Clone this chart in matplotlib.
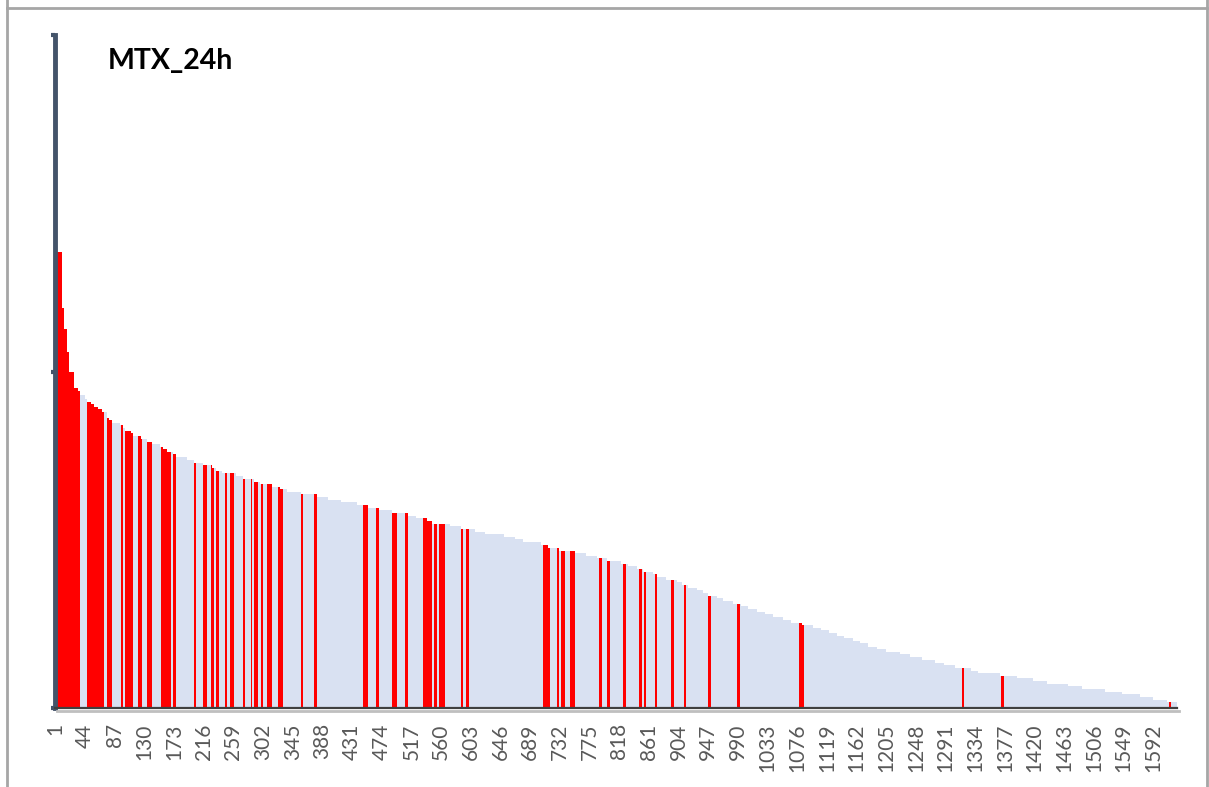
import numpy as np
import matplotlib.pyplot as plt
from matplotlib.lines import Line2D

# Sorted scores, stored as steps: first rank of each step and its value
step_start = [1, 11, 14, 18, 22, 29, 34, 37, 45, 48, 53, 57, 64, 69, 72, 76, 79, 83, 95, 99,
              103, 111, 114, 125, 134, 141, 153, 157, 164, 172, 176, 192, 203, 215, 229, 234, 243, 263, 273, 289,
              298, 315, 327, 337, 357, 380, 396, 416, 438, 454, 470, 489, 512, 524, 540, 547, 573, 589, 609, 624,
              651, 667, 679, 705, 715, 732, 754, 770, 786, 801, 821, 832, 844, 853, 867, 874, 886, 902, 909, 918,
              932, 940, 947, 960, 969, 983, 995, 1005, 1018, 1030, 1041, 1056, 1067, 1083, 1099, 1111, 1122, 1134, 1145, 1157,
              1167, 1179, 1192, 1206, 1225, 1240, 1257, 1276, 1290, 1305, 1329, 1338, 1370, 1395, 1418, 1438, 1469, 1489, 1522, 1548,
              1573, 1592, 1612]
step_value = [1.354, 1.188, 1.125, 1.058, 0.999, 0.950, 0.942, 0.930, 0.917, 0.910, 0.903, 0.895, 0.889, 0.881, 0.879, 0.863, 0.856, 0.848, 0.841, 0.831,
              0.824, 0.816, 0.808, 0.799, 0.791, 0.785, 0.777, 0.769, 0.762, 0.754, 0.745, 0.737, 0.729, 0.721, 0.713, 0.705, 0.697, 0.689, 0.681, 0.673,
              0.666, 0.658, 0.650, 0.643, 0.635, 0.627, 0.618, 0.611, 0.603, 0.595, 0.587, 0.579, 0.571, 0.564, 0.556, 0.548, 0.540, 0.532, 0.524, 0.516,
              0.508, 0.501, 0.492, 0.484, 0.476, 0.468, 0.460, 0.452, 0.445, 0.437, 0.429, 0.421, 0.413, 0.405, 0.397, 0.389, 0.381, 0.374, 0.366, 0.358,
              0.350, 0.342, 0.334, 0.326, 0.318, 0.310, 0.302, 0.294, 0.286, 0.278, 0.270, 0.262, 0.254, 0.247, 0.239, 0.231, 0.223, 0.215, 0.207, 0.199,
              0.192, 0.182, 0.175, 0.167, 0.160, 0.151, 0.143, 0.135, 0.127, 0.120, 0.111, 0.103, 0.096, 0.088, 0.080, 0.072, 0.064, 0.056, 0.048, 0.041,
              0.033, 0.025, 0.017]
n_genes = 1626

# highlighted ranks (first, last)
red_spans = [(1, 36), (48, 71), (76, 82), (96, 98), (103, 113), (122, 126), (134, 140), (154, 168), (172, 175),
             (203, 205), (215, 221), (227, 230), (235, 237), (247, 249), (254, 260), (273, 276), (285, 286), (290, 294),
             (300, 302), (308, 314), (324, 330), (358, 360), (377, 379), (447, 453), (466, 469), (489, 495), (508, 511),
             (534, 546), (550, 553), (557, 565), (589, 591), (596, 600), (708, 718), (728, 730), (735, 739), (747, 753),
             (789, 792), (801, 804), (824, 827), (847, 850), (854, 857), (870, 873), (893, 897), (912, 915), (947, 950),
             (990, 992), (1079, 1085), (1315, 1317), (1372, 1375), (1615, 1617)]

tick_ranks = list(range(1, 1593, 43))

# expand the steps into one value per rank
ranks = np.arange(1, n_genes + 1)
values = np.zeros(n_genes)
bounds = step_start + [n_genes + 1]
for i in range(len(step_value)):
    values[bounds[i] - 1:bounds[i + 1] - 1] = step_value[i]

colors = np.array(['#D9E1F2'] * n_genes, dtype=object)
for a, b in red_spans:
    colors[a - 1:b] = '#FF0000'

fig = plt.figure(figsize=(12.09, 7.87), dpi=100)
ax = fig.add_axes([55 / 1209, 79 / 787, 1122 / 1209, 673 / 787])

ax.bar(ranks, values, width=1.0, color=list(colors), linewidth=0)
ax.set_xlim(0.5, n_genes + 0.5)
ax.set_ylim(0, 2)

ax.set_yticks([0, 1, 2])
ax.set_yticklabels([])
ax.tick_params(axis='y', direction='out', length=3, width=3, color='#44546A')
ax.set_xticks(tick_ranks)
ax.set_xticklabels([str(t) for t in tick_ranks], rotation=90, fontsize=15,
                   family='Lato', color='#595959')
ax.tick_params(axis='x', length=0, pad=11)

for s in ['top', 'right']:
    ax.spines[s].set_visible(False)
ax.spines['left'].set_color('#44546A')
ax.spines['left'].set_linewidth(3.5)
ax.spines['bottom'].set_color('#404040')
ax.spines['bottom'].set_linewidth(1.6)

# soft shadow under the category axis
fig.add_artist(Line2D([57 / 1209, 1179 / 1209], [1 - 711 / 787] * 2, color='#BFBFBF', lw=2))

fig.text(108 / 1209, 1 - 69 / 787, 'MTX_24h', fontsize=20.5, fontweight='bold',
         family='Lato', color='black', va='baseline')

# cell border
fig.add_artist(Line2D([7 / 1209, 7 / 1209], [0, 1], color='#A6A6A6', lw=2))
fig.add_artist(Line2D([1207 / 1209, 1207 / 1209], [0, 1], color='#A6A6A6', lw=2))
fig.add_artist(Line2D([7 / 1209, 1207 / 1209], [1 - 8 / 787] * 2, color='#A6A6A6', lw=2))

fig.savefig('out.png', dpi=100)
